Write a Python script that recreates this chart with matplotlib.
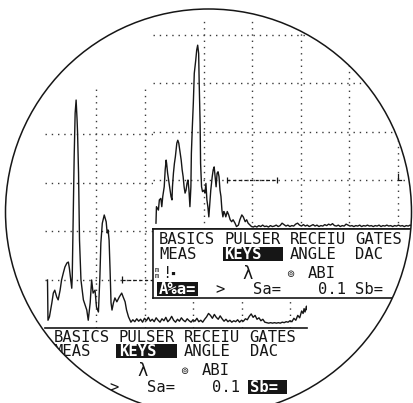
import re
import numpy as np
import matplotlib
matplotlib.use("Agg")
import matplotlib.pyplot as plt
from matplotlib.patches import Rectangle, Circle, PathPatch
from matplotlib.path import Path

# ---- data, in screen divisions (x = time, y = amplitude) ----
LOWER_ECHO_X = [0.00, 0.01, 0.04, 0.09, 0.12, 0.15, 0.19, 0.22, 0.26, 0.29, 0.33, 0.36, 0.40, 0.43,
                0.45, 0.48, 0.50, 0.51, 0.53, 0.55, 0.57, 0.59, 0.61, 0.62, 0.64, 0.66, 0.69, 0.74,
                0.81, 0.84, 0.88, 0.91, 0.94, 0.98, 1.01, 1.05, 1.08, 1.10, 1.13, 1.17, 1.21, 1.23,
                1.25, 1.27, 1.29, 1.31, 1.33, 1.36, 1.39, 1.43, 1.48, 1.53, 1.56, 1.60, 1.63, 1.67]
LOWER_ECHO_Y = [0.99, 0.16, 0.23, 0.52, 0.72, 0.78, 0.64, 0.58, 0.78, 0.99, 1.15, 1.26, 1.34, 1.36,
                1.24, 0.99, 0.82, 1.05, 2.29, 3.53, 4.43, 4.70, 4.29, 4.02, 3.20, 1.81, 0.99, 0.58,
                0.37, 0.16, 0.52, 0.99, 0.72, 0.78, 0.43, 0.33, 1.05, 1.75, 2.16, 2.33, 2.19, 1.96,
                2.02, 1.81, 1.20, 0.52, 0.37, 0.52, 0.62, 0.54, 0.64, 0.72, 0.64, 0.54, 0.37, 0.23]
LOWER_NOISE_X = [1.72, 1.76, 1.80, 1.84, 1.88, 1.92, 1.96, 2.00, 2.04, 2.08,
                 2.12, 2.16, 2.20, 2.24, 2.28, 2.32, 2.36, 2.40, 2.44, 2.48,
                 2.52, 2.56, 2.60, 2.64, 2.68, 2.72, 2.76, 2.80, 2.84, 2.88,
                 2.92, 2.96, 3.00, 3.04, 3.08, 3.12, 3.16, 3.20, 3.24, 3.28,
                 3.32, 3.36, 3.40, 3.44, 3.48, 3.52, 3.56, 3.60, 3.64, 3.68,
                 3.72, 3.76, 3.80, 3.84, 3.88, 3.92, 3.96, 4.00, 4.04, 4.08,
                 4.12, 4.16, 4.20, 4.24, 4.28, 4.32, 4.36, 4.40, 4.44, 4.48,
                 4.52, 4.56, 4.60, 4.64, 4.68, 4.72, 4.76, 4.80, 4.84, 4.88,
                 4.92, 4.96, 5.00, 5.04, 5.08, 5.12, 5.16, 5.20,
                 5.24, 5.27, 5.29, 5.31, 5.34, 5.35]
LOWER_NOISE_Y = [0.12, 0.17, 0.13, 0.19, 0.14, 0.18, 0.12, 0.20, 0.15, 0.22,
                 0.14, 0.18, 0.13, 0.21, 0.16, 0.12, 0.19, 0.15, 0.22, 0.13,
                 0.17, 0.24, 0.16, 0.12, 0.18, 0.14, 0.21, 0.16, 0.13, 0.19,
                 0.15, 0.12, 0.17, 0.14, 0.20, 0.13, 0.16, 0.12, 0.18, 0.23,
                 0.30, 0.26, 0.20, 0.28, 0.22, 0.18, 0.25, 0.19, 0.14, 0.18,
                 0.13, 0.16, 0.12, 0.15, 0.13, 0.17, 0.12, 0.16, 0.14, 0.19,
                 0.17, 0.24, 0.29, 0.22, 0.26, 0.18, 0.21, 0.15, 0.18, 0.12,
                 0.11, 0.10, 0.11, 0.10, 0.11, 0.10, 0.11, 0.10, 0.12, 0.11,
                 0.13, 0.12, 0.15, 0.13, 0.20, 0.16, 0.26, 0.21,
                 0.35, 0.30, 0.40, 0.33, 0.45, 0.38]

UPPER_ECHO_X = [0.02, 0.03, 0.07, 0.09, 0.12, 0.14, 0.16, 0.19, 0.21, 0.23, 0.24, 0.26, 0.28, 0.31,
                0.33, 0.35, 0.36, 0.38, 0.40, 0.42, 0.45, 0.47, 0.49, 0.52, 0.54, 0.56, 0.58, 0.60,
                0.62, 0.64, 0.66, 0.68, 0.70, 0.72, 0.74, 0.75, 0.77, 0.79, 0.81, 0.84, 0.86, 0.88,
                0.90, 0.91, 0.93, 0.94, 0.96, 0.98, 1.01, 1.03, 1.05, 1.07, 1.09, 1.11, 1.13, 1.15,
                1.18, 1.20, 1.22, 1.24, 1.26, 1.28, 1.30, 1.32, 1.34, 1.36, 1.38, 1.40, 1.42, 1.44,
                1.46, 1.49, 1.52, 1.55, 1.58, 1.61, 1.65, 1.68, 1.72, 1.75, 1.79, 1.82, 1.86, 1.89,
                1.92, 1.96, 1.99, 2.03]
UPPER_ECHO_Y = [0.11, 0.45, 0.38, 0.59, 0.62, 0.45, 0.66, 0.86, 1.21, 1.41, 1.34, 1.14, 1.00, 0.79,
                0.66, 0.59, 0.86, 1.14, 1.34, 1.48, 1.76, 1.82, 1.76, 1.55, 1.41, 1.21, 1.07, 0.86,
                0.73, 0.79, 0.93, 1.00, 0.79, 0.45, 0.86, 1.55, 2.10, 2.58, 3.20, 3.47, 3.68, 3.78,
                3.61, 3.06, 2.17, 1.34, 0.86, 0.76, 0.79, 0.73, 0.93, 0.59, 0.45, 0.24, 0.52, 0.79,
                1.07, 1.21, 1.27, 1.07, 0.86, 1.14, 1.17, 1.07, 0.79, 0.66, 0.38, 0.24, 0.35, 0.31,
                0.24, 0.35, 0.28, 0.18, 0.14, 0.18, 0.11, 0.04, 0.07, 0.18, 0.28, 0.24, 0.14, 0.18,
                0.11, 0.07, 0.04, 0.03]
UPPER_NOISE_X = [2.06, 2.10, 2.14, 2.18, 2.22, 2.26, 2.30, 2.34, 2.38, 2.42,
                 2.46, 2.50, 2.54, 2.58, 2.62, 2.66, 2.70, 2.74, 2.78, 2.82,
                 2.86, 2.90, 2.94, 2.98, 3.02, 3.06, 3.10, 3.14, 3.18, 3.22,
                 3.26, 3.30, 3.34, 3.38, 3.42, 3.46, 3.50, 3.54, 3.58, 3.62,
                 3.66, 3.70, 3.74, 3.78, 3.82, 3.86, 3.90, 3.94, 3.98, 4.02,
                 4.06, 4.10, 4.14, 4.18, 4.22, 4.26, 4.30, 4.34, 4.38, 4.42,
                 4.46, 4.50, 4.54, 4.58, 4.62, 4.66, 4.70, 4.74, 4.78, 4.82,
                 4.86, 4.90, 4.94, 4.98, 5.02, 5.06, 5.10, 5.14, 5.18, 5.22,
                 5.26, 5.30, 5.34]
UPPER_NOISE_Y = [0.05, 0.03, 0.06, 0.04, 0.07, 0.04, 0.05, 0.03, 0.06, 0.04,
                 0.05, 0.07, 0.04, 0.06, 0.11, 0.08, 0.05, 0.07, 0.04, 0.06,
                 0.05, 0.09, 0.11, 0.07, 0.05, 0.08, 0.05, 0.07, 0.04, 0.06,
                 0.08, 0.05, 0.07, 0.04, 0.06, 0.05, 0.08, 0.06, 0.09, 0.07,
                 0.10, 0.06, 0.05, 0.07, 0.04, 0.06, 0.05, 0.09, 0.07, 0.05,
                 0.06, 0.04, 0.06, 0.05, 0.07, 0.04, 0.06, 0.05, 0.07, 0.05,
                 0.06, 0.04, 0.06, 0.05, 0.07, 0.04, 0.06, 0.05, 0.07, 0.05,
                 0.06, 0.04, 0.06, 0.05, 0.07, 0.05, 0.06, 0.04, 0.06, 0.05,
                 0.07, 0.05, 0.06]

GRID_X = [1, 2, 3, 4, 5]
GRID_Y = [1, 2, 3, 4]
LOWER_GATE = (1.53, 2.57, 1.0)     # start, end, level
UPPER_GATE = (1.48, 2.52, 1.0)
UPPER_GATE_B = 5.0

MENU_ROWS = ["BASICS PULSER RECEIU GATES",
             "MEAS   KEYS   ANGLE  DAC",
             "",
             "A%a=  >   Sa=    0.1 Sb="]
UPPER_HIGHLIGHT = {"KEYS": (6.85, 13.3), "A%a=": (-0.2, 4.2)}
LOWER_HIGHLIGHT = {"KEYS": (6.75, 13.2), "Sb=": (20.8, 25.0)}

plt.rcParams['font.family'] = ['DejaVu Sans Mono', 'DejaVu Sans']

W, H, DPI = 414, 403, 100
DIV = 48.5          # px per grid division
COL = 9.35          # px per menu character
FS = COL / 0.602 * 72 / DPI
SCREEN_W = 5.36
INK = '#161616'

fig = plt.figure(figsize=(W / DPI, H / DPI), dpi=DPI)


def px_axes(x0, y0, x1, y1, z):
    return fig.add_axes([x0 / W, 1 - y1 / H, (x1 - x0) / W, (y1 - y0) / H], zorder=z)


def draw_screen(x0, base, top, xs, ys, gate, col0, rows_y, highlight, z, boxed, gate_b=None):
    left, right = x0 - 2.5, x0 + SCREEN_W * DIV
    ax = px_axes(left, base - top * DIV, right, base, z)
    ax.set_xlim((left - x0) / DIV, SCREEN_W)
    ax.set_ylim(0, top)
    ax.set_facecolor('white')
    ax.set_xticks(GRID_X)
    ax.set_yticks(GRID_Y)
    ax.tick_params(length=0, labelbottom=False, labelleft=False)
    ax.grid(True, ls=(0, (1, 3.5)), color='#3a3a3a', lw=1.0)
    for s in ['top', 'right', 'left']:
        ax.spines[s].set_visible(False)
    ax.spines['bottom'].set_linewidth(1.2)
    ax.spines['bottom'].set_color(INK)

    g0, g1, lev = gate
    ax.hlines(lev, g0, g1, colors=INK, lw=0.9, ls=(0, (2.5, 2)))
    ax.vlines([g0, g1], lev - 0.07, lev + 0.07, colors=INK, lw=0.9)
    if gate_b is not None:
        ax.plot([gate_b, gate_b, gate_b + 0.07], [lev + 0.12, lev, lev], color=INK, lw=0.9)

    ax.plot(xs, ys, color=INK, lw=1.0)

    mh = 69
    m = px_axes(left, base, right, base + mh, z + 0.5)
    m.set_xlim((left - col0) / COL, (right - col0) / COL)
    m.set_ylim(mh, 0)
    m.set_xticks([])
    m.set_yticks([])
    for s in m.spines.values():
        s.set_visible(False)
    if boxed:
        m.set_facecolor('white')
        for s in ['left', 'top', 'bottom']:
            m.spines[s].set_visible(True)
            m.spines[s].set_linewidth(1.2)
            m.spines[s].set_color(INK)
    else:
        m.patch.set_alpha(0)

    # menu rows, one text per word at its character column
    for text, y in zip(MENU_ROWS, rows_y):
        for match in re.finditer(r'\S+', text):
            word, col = match.group(), match.start()
            if word in highlight:
                c0, c1 = highlight[word]
                m.add_patch(Rectangle((c0, y - 7), c1 - c0, 14, color=INK, lw=0))
                m.text(col, y + 5.4, word, color='white', fontsize=FS, fontweight='bold',
                       ha='left', va='baseline')
            else:
                m.text(col, y + 5.4, word, color=INK, fontsize=FS, ha='left', va='baseline')

    # symbol row
    y3 = rows_y[2]
    m.text(-0.45, y3, "m\nm", fontsize=5, color=INK, ha='left', va='center', linespacing=0.8)
    m.text(0.35, y3 + 5.4, "!", fontsize=FS, color=INK, ha='left', va='baseline')
    m.text(1.5, y3, "\u25aa", fontsize=6, color=INK, ha='center', va='center')
    m.text(9.5, y3 + 6, "\u03bb", fontsize=FS * 1.1, color=INK, ha='center', va='baseline')
    m.text(14.05, y3 + 1, "\u229a", fontsize=7, color=INK, ha='center', va='center',
           family='DejaVu Sans')
    m.text(15.9, y3 + 5.4, "ABI", fontsize=FS, color=INK, ha='left', va='baseline')


# back screen (lower-left), then the front screen pasted over it
draw_screen(47.5, 328, 5.0, LOWER_ECHO_X + LOWER_NOISE_X, LOWER_ECHO_Y + LOWER_NOISE_Y,
            LOWER_GATE, 53.3, [9, 23, 42, 59], LOWER_HIGHLIGHT, 1, False)
draw_screen(155, 228.5, 4.3, UPPER_ECHO_X + UPPER_NOISE_X, UPPER_ECHO_Y + UPPER_NOISE_Y,
            UPPER_GATE, 159, [10.5, 25.5, 44.5, 60.5], UPPER_HIGHLIGHT, 3, True,
            gate_b=UPPER_GATE_B)

# round viewport mask
ov = fig.add_axes([0, 0, 1, 1], zorder=10)
ov.set_xlim(0, W)
ov.set_ylim(H, 0)
ov.axis('off')
cx, cy, r = 208.5, 212, 203
t = np.linspace(2 * np.pi, 0, 361)
outer = [(-10, -10), (W + 10, -10), (W + 10, H + 10), (-10, H + 10), (-10, -10)]
inner = list(zip(cx + r * np.cos(t), cy + r * np.sin(t)))
verts = outer + inner
codes = ([Path.MOVETO] + [Path.LINETO] * 3 + [Path.CLOSEPOLY]
         + [Path.MOVETO] + [Path.LINETO] * (len(inner) - 2) + [Path.CLOSEPOLY])
ov.add_patch(PathPatch(Path(verts, codes), facecolor='white', edgecolor='none'))
ov.add_patch(Circle((cx, cy), r, fill=False, edgecolor=INK, lw=1.1))

fig.savefig('out.png', dpi=DPI)
